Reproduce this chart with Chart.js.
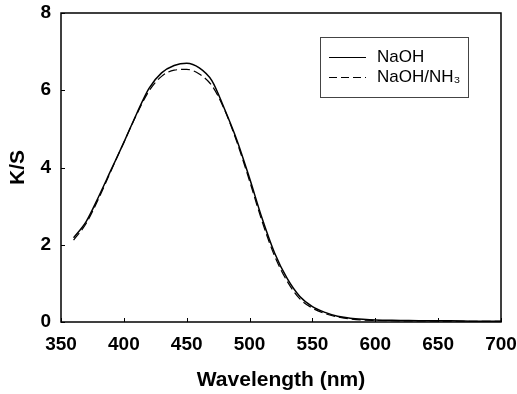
<!DOCTYPE html>
<html>
<head>
<meta charset="utf-8">
<script src="https://cdn.jsdelivr.net/npm/chart.js@4"></script>
<style>
  html, body { margin: 0; padding: 0; background: #fff; }
  #wrap { width: 517px; height: 394px; }
</style>
</head>
<body>
<div id="wrap"><canvas id="ksChart" width="517" height="394"></canvas></div>
<script>
// wavelength grid (nm) and K/S values
const wavelengths = [360, 370, 380, 390, 400, 410, 420, 430, 440, 450, 460, 470, 480, 490,
  500, 510, 520, 530, 540, 550, 560, 570, 580, 590, 600, 620, 640, 660, 680, 700];
const naoh = [2.18, 2.6, 3.25, 3.95, 4.65, 5.38, 6.05, 6.45, 6.64, 6.70, 6.58, 6.25, 5.52, 4.70,
  3.72, 2.68, 1.78, 1.12, 0.66, 0.40, 0.25, 0.15, 0.10, 0.07, 0.05, 0.04, 0.03, 0.03, 0.02, 0.02];
const naohNh3 = [2.12, 2.55, 3.2, 3.93, 4.65, 5.36, 5.98, 6.36, 6.52, 6.54, 6.42, 6.12, 5.50, 4.65,
  3.65, 2.60, 1.70, 1.05, 0.60, 0.36, 0.22, 0.13, 0.08, 0.05, 0.04, 0.03, 0.03, 0.02, 0.02, 0.02];
const xTicks = [350, 400, 450, 500, 550, 600, 650, 700];
const yTicks = [0, 2, 4, 6, 8];
const seriesNames = ["NaOH", "NaOH/NH\u2083"];

const toPoints = (vals) => wavelengths.map((w, i) => ({ x: w, y: vals[i] }));

// frame, inward ticks and boxed legend
const framePlugin = {
  id: "frame",
  afterDraw(chart) {
    const { ctx, chartArea: a, scales } = chart;
    ctx.save();
    ctx.strokeStyle = "#000";
    ctx.lineWidth = 1.5;
    ctx.strokeRect(a.left, a.top, a.right - a.left, a.bottom - a.top);
    ctx.lineWidth = 1;
    xTicks.forEach((t) => {
      const px = Math.round(scales.x.getPixelForValue(t)) + 0.5;
      ctx.beginPath(); ctx.moveTo(px, a.bottom); ctx.lineTo(px, a.bottom - 4); ctx.stroke();
    });
    yTicks.forEach((t) => {
      const py = Math.round(scales.y.getPixelForValue(t)) + 0.5;
      ctx.beginPath(); ctx.moveTo(a.left, py); ctx.lineTo(a.left + 4, py); ctx.stroke();
    });

    // legend box
    const bx = 320, by = 37, bw = 148, bh = 60;
    ctx.lineWidth = 1;
    ctx.strokeStyle = "#444";
    ctx.strokeRect(bx + 0.5, by + 0.5, bw, bh);
    ctx.strokeStyle = "#000";
    const rows = [57, 77];
    const dashes = [[], [8, 4]];
    ctx.font = "17px 'Liberation Sans', Arial, sans-serif";
    ctx.fillStyle = "#000";
    ctx.textBaseline = "middle";
    rows.forEach((ry, i) => {
      ctx.setLineDash(dashes[i]);
      ctx.beginPath(); ctx.moveTo(329, ry + 0.5); ctx.lineTo(366, ry + 0.5); ctx.stroke();
      ctx.setLineDash([]);
      ctx.fillText(seriesNames[i], 377, ry);
    });
    ctx.restore();
  }
};

new Chart(document.getElementById("ksChart"), {
  type: "line",
  data: {
    datasets: [
      {
        label: seriesNames[0],
        data: toPoints(naoh),
        borderColor: "#000",
        borderWidth: 1.5,
        pointRadius: 0,
        cubicInterpolationMode: "monotone"
      },
      {
        label: seriesNames[1],
        data: toPoints(naohNh3),
        borderColor: "#000",
        borderWidth: 1.2,
        borderDash: [9, 4],
        pointRadius: 0,
        cubicInterpolationMode: "monotone"
      }
    ]
  },
  options: {
    responsive: false,
    animation: false,
    layout: { padding: { top: 13, right: 16, left: 0, bottom: 0 } },
    plugins: {
      legend: { display: false },
      tooltip: { enabled: false }
    },
    scales: {
      x: {
        type: "linear",
        min: 350,
        max: 700,
        afterBuildTicks: (s) => { s.ticks = xTicks.map((v) => ({ value: v })); },
        afterFit: (s) => { s.height = 72; s.paddingLeft = 0; s.paddingRight = 0; },
        grid: { display: false, drawTicks: false },
        border: { display: false },
        ticks: {
          color: "#000",
          padding: 11,
          maxRotation: 0,
          font: { family: "'Liberation Sans', Arial, sans-serif", size: 19, weight: "bold" }
        },
        title: {
          display: true,
          text: "Wavelength (nm)",
          color: "#000",
          padding: { top: 10, bottom: 1 },
          font: { family: "'Liberation Sans', Arial, sans-serif", size: 21, weight: "bold" }
        }
      },
      y: {
        min: 0,
        max: 8,
        afterBuildTicks: (s) => { s.ticks = yTicks.map((v) => ({ value: v })); },
        afterFit: (s) => { s.width = 61; s.paddingTop = 0; s.paddingBottom = 0; },
        grid: { display: false, drawTicks: false },
        border: { display: false },
        ticks: {
          color: "#000",
          padding: 10,
          font: { family: "'Liberation Sans', Arial, sans-serif", size: 19, weight: "bold" }
        },
        title: {
          display: true,
          text: "K/S",
          color: "#000",
          padding: { top: 6, bottom: 0 },
          font: { family: "'Liberation Sans', Arial, sans-serif", size: 21, weight: "bold" }
        }
      }
    }
  },
  plugins: [framePlugin]
});
</script>
</body>
</html>
